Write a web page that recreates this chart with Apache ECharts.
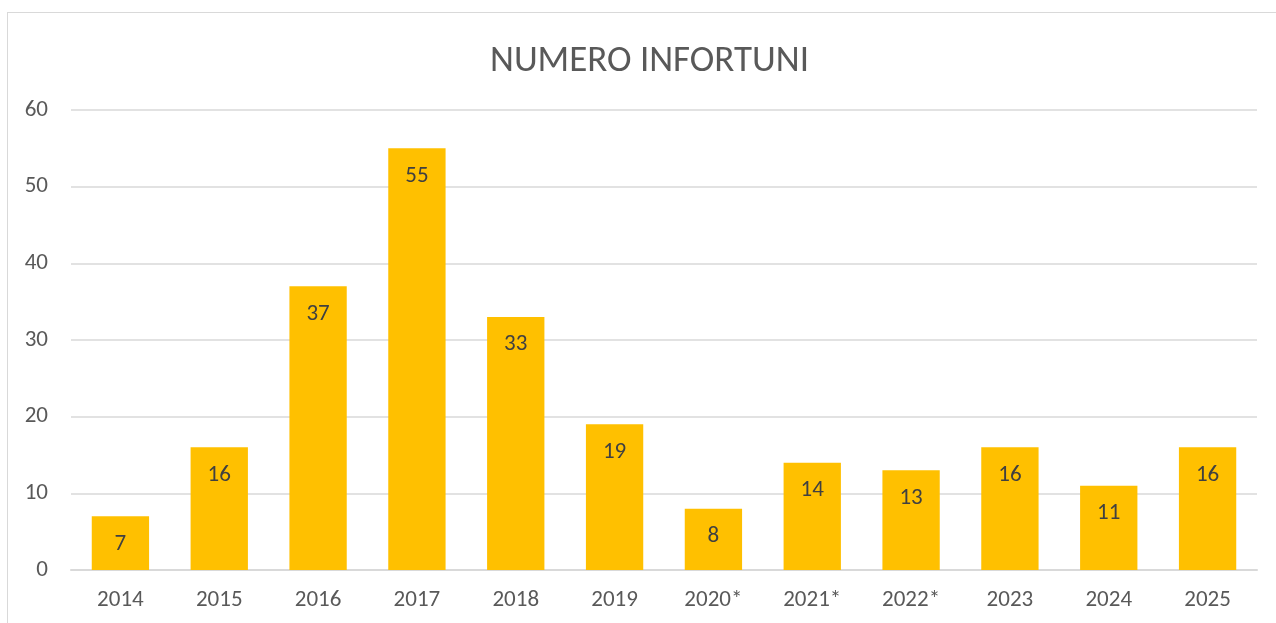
<!DOCTYPE html>
<html>
<head>
<meta charset="utf-8">
<script src="https://cdn.jsdelivr.net/npm/echarts@6/dist/echarts.min.js"></script>
<style>
  html, body { margin: 0; padding: 0; background: #fff; overflow: hidden; }
  #frame {
    position: absolute; left: 7px; top: 12px;
    width: 1300px; height: 700px;
    border: 1px solid #d9d9d9; box-sizing: border-box;
  }
  #main { position: absolute; left: 0; top: 0; width: 1276px; height: 623px; }
</style>
</head>
<body>
<div id="frame"></div>
<div id="main"></div>
<script>
// anni e numero di infortuni
const anni = ['2014', '2015', '2016', '2017', '2018', '2019', '2020*', '2021*', '2022*', '2023', '2024', '2025']
const infortuni = [7, 16, 37, 55, 33, 19, 8, 14, 13, 16, 11, 16]
const titolo = 'NUMERO INFORTUNI'

const font = 'Carlito, "Open Sans", sans-serif'
const chart = echarts.init(document.getElementById('main'))

chart.setOption({
  animation: false,
  title: {
    text: titolo,
    left: 485,
    top: 38,
    textStyle: { fontFamily: font, fontSize: 37, fontWeight: 'normal', color: '#595959' }
  },
  grid: { left: 71, right: 19, top: 110, bottom: 53 },
  xAxis: {
    type: 'category',
    data: anni,
    axisLine: { lineStyle: { color: '#d9d9d9', width: 2 } },
    axisTick: { show: false },
    axisLabel: { fontFamily: font, fontSize: 23, color: '#595959', margin: 19 }
  },
  yAxis: {
    type: 'value',
    min: 0, max: 60, interval: 10,
    axisLine: { show: false },
    axisTick: { show: false },
    splitLine: { lineStyle: { color: '#d9d9d9', width: 1.5 } },
    axisLabel: { fontFamily: font, fontSize: 23, color: '#595959', margin: 23 }
  },
  series: [{
    type: 'bar',
    data: infortuni,
    barCategoryGap: '42%',
    itemStyle: { color: '#FFC000' },
    label: {
      show: true,
      position: 'insideTop',
      distance: 16,
      fontFamily: font,
      fontSize: 23,
      color: '#404040'
    }
  }]
})
</script>
</body>
</html>
